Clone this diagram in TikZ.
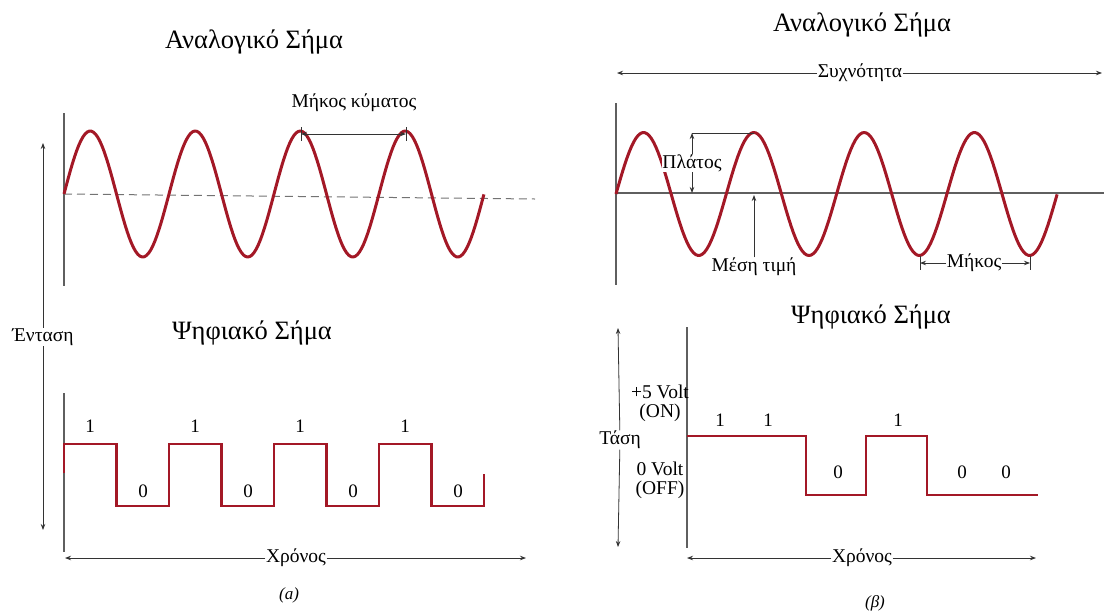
\documentclass[tikz,border=0pt]{standalone}
\usepackage{fontspec}
\setmainfont{Liberation Serif}
\usetikzlibrary{arrows.meta, positioning, calc}
\definecolor{sigred}{RGB}{163,24,38}
\definecolor{axisgray}{RGB}{95,95,95}

\begin{document}
\begin{tikzpicture}[
    x=1pt, y=-1pt,
    >={Stealth[length=6pt,width=4.5pt]},
    title/.style={font=\fontsize{26.5}{30}\selectfont, inner sep=0pt},
    lbl/.style={font=\fontsize{19.5}{22}\selectfont, inner sep=0.5pt},
    gaplbl/.style={lbl, fill=white},
    bit/.style={font=\fontsize{19}{22}\selectfont, inner sep=0pt},
    sublbl/.style={font=\fontsize{17}{20}\selectfont\itshape},
    axis/.style={draw=axisgray, line width=1.3pt},
    analog/.style={draw=sigred, line width=3pt, line join=round},
    digital/.style={draw=sigred, line width=2.8pt, line join=miter},
    arrow/.style={->, draw=black!80, line width=0.8pt},
    dim/.style={draw=black!80, line width=0.8pt},
    zero/.style={draw=black!55, line width=1pt, dash pattern=on 8pt off 5pt}
]
\useasboundingbox (0,0) rectangle (1104,614);

% (a) ANALOGIKO SIMA
\node[title] (t_ana_a) at (254,42) {Αναλογικό Σήμα};
\coordinate (ax_a_top) at (64,113);
\coordinate (ax_a_bot) at (64,286);
\draw[axis] (ax_a_top) -- (ax_a_bot);
\coordinate (mid_a0) at (64,194);
\coordinate (mid_a1) at (535,199);
\draw[zero] (mid_a0) -- (mid_a1);
\draw[analog] plot[domain=0:4, samples=200] ({64+105*\x},{194-63*sin(360*\x)});

\coordinate (wl_l) at (301,134);
\coordinate (wl_r) at (406,134);
\draw[dim] ($(wl_l)+(0,-7)$) -- ($(wl_l)+(0,7)$);
\draw[dim] ($(wl_r)+(0,-7)$) -- ($(wl_r)+(0,7)$);
\draw[dim, <->] (wl_l) -- (wl_r);
\node[lbl] (lbl_wl) at (354,103) {Μήκος κύματος};

\node[gaplbl] (lbl_int) at (43,337) {Ένταση};
\coordinate (int_top) at (43,143);
\coordinate (int_bot) at (43,530);
\draw[arrow] (lbl_int) -- (int_top);
\draw[arrow] (lbl_int) -- (int_bot);

% (a) PSIFIAKO SIMA
\node[title] (t_dig_a) at (252,333) {Ψηφιακό Σήμα};
\coordinate (ax_c_top) at (64,393);
\coordinate (ax_c_bot) at (64,552);
\draw[axis] (ax_c_top) -- (ax_c_bot);
\draw[digital] (64,473) |- (116.5,444) |- (169,506) |- (221.5,444) |- (274,506) |- (326.5,444) |- (379,506) |- (431.5,444) |- (484,506) -- (484,474);
\foreach \x in {90,195,300,405} \node[bit] at (\x,426) {1};
\foreach \x in {143,248,353,458} \node[bit] at (\x,491) {0};

\node[gaplbl] (lbl_time_a) at (296,558) {Χρόνος};
\coordinate (time_a0) at (65,558);
\coordinate (time_a1) at (526,558);
\draw[arrow] (lbl_time_a) -- (time_a0);
\draw[arrow] (lbl_time_a) -- (time_a1);
\node[sublbl] (sub_a) at (289,595) {(a)};

% (b) DEXIA PLEVRA
\begin{scope}[xshift=552pt]
\node[title] (t_ana_b) at (310,25) {Αναλογικό Σήμα};
\node[gaplbl] (lbl_freq) at (308,73) {Συχνότητα};
\coordinate (freq0) at (65,73);
\coordinate (freq1) at (550,73);
\draw[arrow] (lbl_freq) -- (freq0);
\draw[arrow] (lbl_freq) -- (freq1);

\coordinate (ax_b_top) at (64,103);
\coordinate (ax_b_bot) at (64,285);
\coordinate (ax_b_end) at (552,193);
\draw[axis] (ax_b_top) -- (ax_b_bot);
\draw[axis, line width=1.1pt] (64,193) -- (ax_b_end);
\draw[analog] plot[domain=0:4, samples=200] ({64+110.3*\x},{194-61.5*sin(360*\x)});

\coordinate (amp_top) at (140,133);
\coordinate (amp_bot) at (140,193);
\coordinate (crest) at (202,133);
\draw[dim] (amp_top) -- (crest);
\node[gaplbl] (lbl_amp) at (140,163) {Πλάτος};
\draw[arrow] (lbl_amp) -- (amp_top);
\draw[arrow] (lbl_amp) -- (amp_bot);

\node[lbl] (lbl_mean) at (202,267) {Μέση τιμή};
\coordinate (mean_pt) at (202,195);
\draw[arrow] (lbl_mean) -- (mean_pt);

\coordinate (len_l) at (368,263);
\coordinate (len_r) at (478,263);
\draw[dim] ($(len_l)+(0,-7)$) -- ($(len_l)+(0,7)$);
\draw[dim] ($(len_r)+(0,-7)$) -- ($(len_r)+(0,7)$);
\node[gaplbl] (lbl_len) at (422,263) {Μήκος};
\draw[arrow] (lbl_len) -- (len_l);
\draw[arrow] (lbl_len) -- (len_r);

% (b) PSIFIAKO SIMA
\node[title] (t_dig_b) at (319,317) {Ψηφιακό Σήμα};
\coordinate (ax_d_top) at (135,327);
\coordinate (ax_d_bot) at (135,548);
\draw[axis] (ax_d_top) -- (ax_d_bot);

\node[gaplbl] (lbl_volt) at (68,440) {Τάση};
\coordinate (volt_top) at (66,328);
\coordinate (volt_bot) at (66,547);
\draw[arrow] (lbl_volt) -- (volt_top);
\draw[arrow] (lbl_volt) -- (volt_bot);

\node[lbl] (v_on) at (108,392) {+5 Volt};
\node[lbl] (v_on2) at (108,413) {(ON)};
\node[lbl] (v_off) at (108,469) {0 Volt};
\node[lbl] (v_off2) at (108,490) {(OFF)};

\draw[digital] (135,436) -- (254,436) -- (254,495) -- (314,495) -- (314,436) -- (375,436) -- (375,495) -- (486,495);
\foreach \x in {168,216,346} \node[bit] at (\x,420) {1};
\foreach \x in {286,410,454} \node[bit] at (\x,472) {0};

\node[gaplbl] (lbl_time_b) at (310,558) {Χρόνος};
\coordinate (time_b0) at (135,558);
\coordinate (time_b1) at (484,558);
\draw[arrow] (lbl_time_b) -- (time_b0);
\draw[arrow] (lbl_time_b) -- (time_b1);
\node[sublbl] (sub_b) at (323,603) {(β)};
\end{scope}

\end{tikzpicture}
\end{document}
